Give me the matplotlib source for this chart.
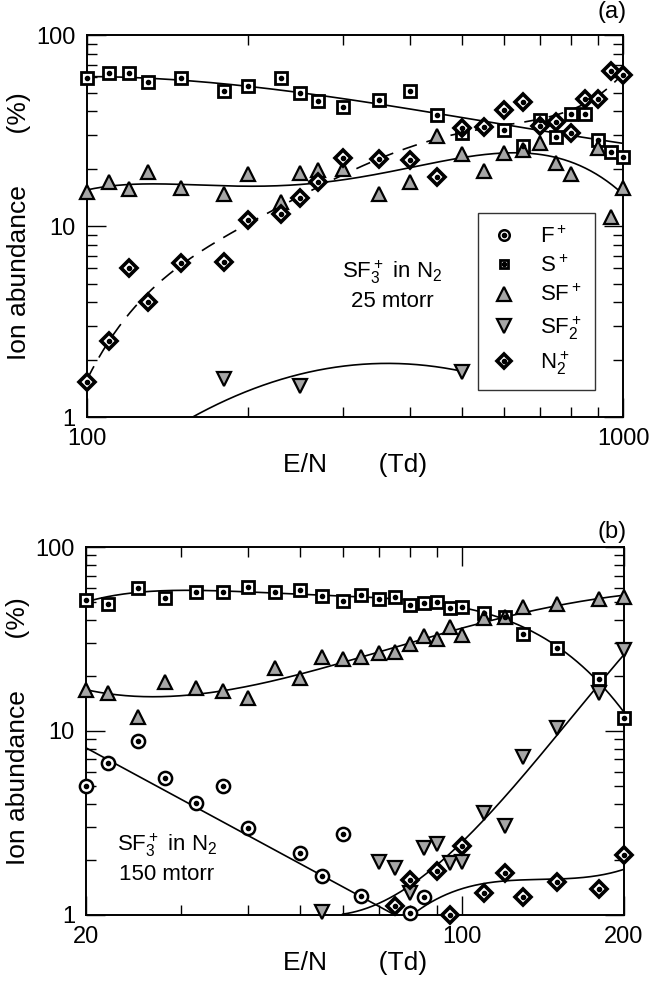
import numpy as np
import matplotlib
matplotlib.use('Agg')
import matplotlib.pyplot as plt
from matplotlib.ticker import FixedLocator, FixedFormatter, NullFormatter, LogLocator

plt.rcParams['font.family'] = ['Liberation Sans', 'DejaVu Sans']
plt.rcParams['mathtext.default'] = 'regular'

# ---- panel (a): SF3+ in N2, 25 mtorr ----
a_x_S = [100, 110, 120, 130, 150, 180, 200, 230, 250, 270, 300, 350, 400, 450, 500, 600, 650, 700, 750, 800, 850, 900, 950, 1000]
a_S = [59.7, 63, 63, 56.5, 59.7, 51.1, 54, 59.3, 50, 45.3, 41.8, 45.7, 50.9, 38.1, 30.6, 31.8, 26.2, 35.9, 29.4, 38.6, 38.6, 28.2, 24.5, 23.1]
a_x_SF = [100, 110, 120, 130, 150, 180, 200, 230, 250, 270, 300, 350, 400, 450, 500, 550, 600, 650, 700, 750, 800, 900, 950, 1000]
a_SF = [15.1, 16.9, 15.6, 19.2, 15.8, 14.7, 18.7, 13.4, 19.0, 19.6, 19.9, 14.7, 16.9, 29.7, 23.8, 19.4, 24.0, 25.0, 27.3, 21.3, 18.7, 25.5, 11.1, 15.8]
a_x_SF2 = [180, 250, 500]
a_SF2 = [1.59, 1.45, 1.73]
a_x_N2 = [100, 110, 120, 130, 150, 180, 200, 230, 250, 270, 300, 350, 400, 450, 500, 550, 600, 650, 700, 750, 800, 850, 900, 950, 1000]
a_N2 = [1.53, 2.51, 6.05, 4.02, 6.38, 6.5, 10.7, 11.5, 14.0, 17.1, 22.6, 22.4, 22.2, 18.1, 32.5, 32.9, 40.5, 44.8, 33.4, 35.2, 30.6, 46.1, 46.4, 64.8, 61.7]

# fitted curves
a_fit_S_x = [100, 150, 200, 300, 500, 700, 1000]
a_fit_S = [59.7, 60, 54, 45, 36.2, 33.4, 26.5]
a_fit_SF_x = [100, 150, 200, 250, 300, 400, 500, 650, 800, 1000]
a_fit_SF = [15.4, 16.7, 16.2, 16.2, 17.3, 20.5, 23.1, 24, 21.3, 14.8]
a_fit_N2_x = [100, 110, 130, 150, 200, 270, 300, 350, 400, 450, 500, 690, 800, 950, 1000]
a_fit_N2 = [1.63, 2.33, 4.62, 6.38, 10.1, 16.1, 18.5, 22.5, 25.2, 28.8, 31.8, 35.2, 40.5, 55.8, 62]
a_fit_SF2_x = [156, 200, 250, 300, 370, 500]
a_fit_SF2 = [1.0, 1.33, 1.69, 1.87, 1.91, 1.73]

# ---- panel (b): SF3+ in N2, 150 mtorr ----
b_x_S = [20, 22, 25, 28, 32, 36, 40, 45, 50, 55, 60, 65, 70, 75, 80, 85, 90, 95, 100, 110, 120, 130, 150, 180, 200]
b_S = [51.5, 48.8, 60.1, 52.6, 56.7, 56.7, 60.9, 56.7, 58.4, 54.2, 51.1, 54.8, 52.2, 53.7, 48.4, 49.4, 50.4, 46.4, 47.0, 43.6, 41.8, 33.5, 28.4, 19.2, 11.7]
b_x_SF = [20, 22, 25, 28, 32, 36, 40, 45, 50, 55, 60, 65, 70, 75, 80, 85, 90, 95, 100, 110, 120, 130, 150, 180, 200]
b_SF = [16.7, 16.0, 11.96, 18.5, 17.1, 16.5, 15.2, 22.1, 19.5, 25.3, 24.6, 25.3, 26.4, 26.8, 29.6, 33.0, 31.6, 36.9, 33.2, 41.0, 41.8, 47.4, 48.8, 52.2, 53.3]
b_x_SF2 = [55, 70, 75, 80, 85, 90, 95, 100, 110, 120, 130, 150, 180, 200]
b_SF2 = [1.04, 1.93, 1.79, 1.32, 2.30, 2.43, 1.91, 1.93, 3.57, 3.05, 7.25, 10.4, 16.0, 27.5]
b_x_F = [20, 22, 25, 28, 32, 36, 40, 50, 55, 60, 65, 80, 85]
b_F = [5.04, 6.67, 8.86, 5.53, 4.05, 5.04, 2.98, 2.16, 1.63, 2.75, 1.27, 1.03, 1.26]
b_x_N2 = [75, 80, 90, 95, 100, 110, 120, 130, 150, 180, 200]
b_N2 = [1.12, 1.55, 1.74, 1.0, 2.38, 1.31, 1.69, 1.26, 1.51, 1.38, 2.12]

b_fit_S_x = [20, 25, 32, 40, 50, 60, 80, 100, 120, 150, 180, 200]
b_fit_S = [51.1, 55.3, 57.2, 58, 57.2, 54.8, 49.2, 46, 41.5, 28.6, 19.2, 12.2]
b_fit_SF_x = [20, 26, 32, 40, 50, 60, 80, 100, 120, 150, 180, 200]
b_fit_SF = [17.1, 14.6, 16, 17.9, 20.6, 24, 29.1, 35.4, 41.8, 49.2, 53.7, 53.3]
b_fit_SF2_x = [60, 80, 100, 110, 130, 150, 170, 180, 200]
b_fit_SF2 = [1.0, 1.52, 2.35, 3.21, 6.01, 9.72, 14.7, 17.4, 26.4]
b_fit_F_x = [20, 75]
b_fit_F = [8.1, 1.0]
b_fit_N2_x = [80.6, 100, 120, 150, 180, 200]
b_fit_N2 = [1.0, 1.37, 1.55, 1.58, 1.61, 1.79]

GRAY = '#a6a6a6'
styles = {
    'F': dict(marker='o', ms=9.5, mfc='white', mec='black', mew=1.8),
    'S': dict(marker='s', ms=8, mfc='white', mec='black', mew=2.0),
    'SF': dict(marker='^', ms=10, mfc=GRAY, mec='black', mew=1.6),
    'SF2': dict(marker='v', ms=10, mfc=GRAY, mec='black', mew=1.6),
    'N2': dict(marker='D', ms=8.5, mfc='white', mec='black', mew=2.6),
}
dotted = {'F', 'S', 'N2'}


def pts(ax, x, y, key):
    ax.plot(x, y, ls='none', clip_on=False, zorder=4, **styles[key])
    if key in dotted:
        ax.plot(x, y, ls='none', marker='o', ms=3, color='black', clip_on=False, zorder=5)


def fit(ax, x, y, deg, ls='-', dashes=None):
    lx, ly = np.log10(x), np.log10(y)
    c = np.polyfit(lx, ly, deg)
    xs = np.linspace(lx[0], lx[-1], 300)
    line, = ax.plot(10 ** xs, 10 ** np.polyval(c, xs), color='black', lw=1.2, ls=ls, zorder=3)
    if dashes:
        line.set_dashes(dashes)


def style_axes(ax):
    ax.set_xscale('log')
    ax.set_yscale('log')
    ax.set_ylim(1, 100)
    ax.tick_params(which='both', direction='in', top=True, right=True, labelsize=17, width=1.0, pad=8)
    ax.tick_params(which='major', length=14)
    ax.tick_params(which='minor', length=7)
    ax.yaxis.set_major_locator(FixedLocator([1, 10, 100]))
    ax.yaxis.set_major_formatter(FixedFormatter(['1', '10', '100']))
    ax.yaxis.set_minor_locator(LogLocator(base=10, subs=range(2, 10)))
    ax.yaxis.set_minor_formatter(NullFormatter())
    for s in ax.spines.values():
        s.set_linewidth(1.4)
    ax.set_ylabel('Ion abundance       (%)', fontsize=19)
    ax.yaxis.set_label_coords(-0.105, 0.5)
    ax.set_xlabel('E/N       (Td)', fontsize=19, labelpad=2)


fig = plt.figure(figsize=(6.5, 9.81), dpi=100)
ax1 = fig.add_axes([0.1338, 0.5749, 0.8247, 0.3894])
ax2 = fig.add_axes([0.1323, 0.0673, 0.8277, 0.3751])

# panel (a)
style_axes(ax1)
ax1.set_xlim(100, 1000)
ax1.xaxis.set_major_locator(FixedLocator([100, 1000]))
ax1.xaxis.set_major_formatter(FixedFormatter(['100', '1000']))
ax1.xaxis.set_minor_locator(FixedLocator([200, 300, 400, 500, 600, 700, 800, 900]))
ax1.xaxis.set_minor_formatter(NullFormatter())

fit(ax1, a_fit_S_x, a_fit_S, 3)
fit(ax1, a_fit_SF_x, a_fit_SF, 4)
fit(ax1, a_fit_N2_x, a_fit_N2, 5, dashes=[9, 6])
fit(ax1, a_fit_SF2_x, a_fit_SF2, 2)
pts(ax1, a_x_S, a_S, 'S')
pts(ax1, a_x_SF, a_SF, 'SF')
pts(ax1, a_x_SF2, a_SF2, 'SF2')
pts(ax1, a_x_N2, a_N2, 'N2')

ax1.text(0.57, 0.345, 'SF$_3^+$ in N$_2$\n25 mtorr', transform=ax1.transAxes,
         ha='center', va='center', fontsize=16, linespacing=1.3)

# legend
handles = []
for key in ['F', 'S', 'SF', 'SF2', 'N2']:
    st = dict(styles[key])
    if key != 'SF' and key != 'SF2':
        st['ms'] = st['ms'] * 0.8
    h1, = ax1.plot([], [], ls='none', **st)
    if key in dotted:
        h2, = ax1.plot([], [], ls='none', marker='o', ms=3, color='black')
        handles.append((h1, h2))
    else:
        handles.append(h1)
labels = ['F$^+$', 'S$^+$', 'SF$^+$', 'SF$_2^+$', 'N$_2^+$']
leg = ax1.legend(handles, labels, loc='upper right', bbox_to_anchor=(0.948, 0.534),
                 fontsize=16, frameon=True, fancybox=False, edgecolor='black',
                 borderpad=0.6, labelspacing=0.35, handlelength=1.2, handletextpad=1.0,
                 borderaxespad=0)
leg.get_frame().set_linewidth(1.0)

# panel (b)
style_axes(ax2)
ax2.set_xlim(20, 200)
ax2.xaxis.set_major_locator(FixedLocator([20, 100, 200]))
ax2.xaxis.set_major_formatter(FixedFormatter(['20', '100', '200']))
ax2.xaxis.set_minor_locator(FixedLocator([30, 40, 50, 60, 70, 80, 90]))
ax2.xaxis.set_minor_formatter(NullFormatter())

fit(ax2, b_fit_S_x, b_fit_S, 4)
fit(ax2, b_fit_SF_x, b_fit_SF, 4)
fit(ax2, b_fit_SF2_x, b_fit_SF2, 3)
fit(ax2, b_fit_F_x, b_fit_F, 1)
fit(ax2, b_fit_N2_x, b_fit_N2, 3)
pts(ax2, b_x_S, b_S, 'S')
pts(ax2, b_x_SF, b_SF, 'SF')
pts(ax2, b_x_SF2, b_SF2, 'SF2')
pts(ax2, b_x_F, b_F, 'F')
pts(ax2, b_x_N2, b_N2, 'N2')

ax2.text(0.15, 0.155, 'SF$_3^+$ in N$_2$\n150 mtorr', transform=ax2.transAxes,
         ha='center', va='center', fontsize=16, linespacing=1.3)

fig.text(627 / 650, 1 - 12 / 981, '(a)', ha='right', va='center', fontsize=17)
fig.text(627 / 650, 1 - 532 / 981, '(b)', ha='right', va='center', fontsize=17)

fig.savefig('out.png', dpi=100)
